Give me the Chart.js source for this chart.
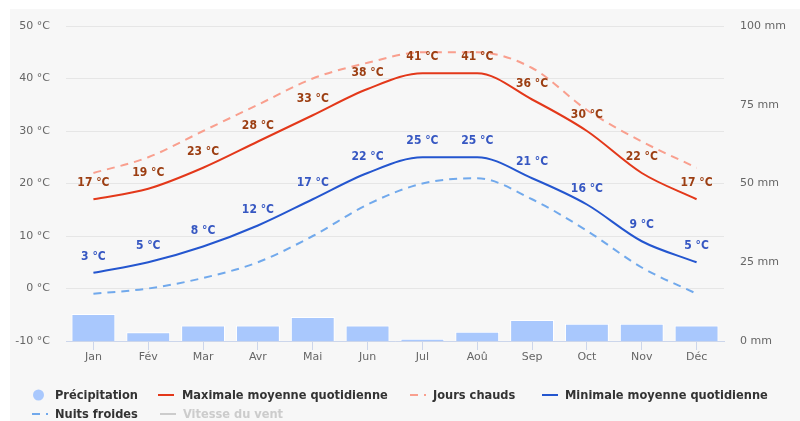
<!DOCTYPE html>
<html>
<head>
<meta charset="utf-8">
<script src="https://cdn.jsdelivr.net/npm/chart.js@4.4.1/dist/chart.umd.min.js"></script>
<style>
  html, body { margin:0; padding:0; background:#ffffff; width:800px; height:421px; overflow:hidden; }
  #panel { position:absolute; left:10px; top:9px; width:790px; height:412px; background:#f7f7f7; }
  #wrap { position:absolute; left:0; top:0; width:800px; height:421px; }
  .lg { position:absolute; font-family:"DejaVu Sans Condensed","DejaVu Sans",sans-serif; font-weight:bold; font-size:12.7px; color:#333333; line-height:14px; white-space:nowrap; }
  .sym { position:absolute; }
</style>
</head>
<body>
<div id="panel"></div>
<div id="wrap"><canvas id="c" width="800" height="421"></canvas></div>
<div id="legend"></div>
<script>
const months = ['Jan','Fév','Mar','Avr','Mai','Jun','Jul','Aoû','Sep','Oct','Nov','Déc'];
const precipitation = [8.6, 2.8, 4.9, 4.9, 7.6, 4.9, 0.7, 2.9, 6.7, 5.5, 5.5, 4.9];
const maxTemp = [17, 19, 23, 28, 33, 38, 41, 41, 36, 30, 22, 17];
const hotDays = [22, 25, 30, 35, 40, 43, 45, 45, 42, 34, 28, 23];
const minTemp = [3, 5, 8, 12, 17, 22, 25, 25, 21, 16, 9, 5];
const coldNights = [-1, 0, 2, 5, 10, 16, 20, 21, 17, 11, 4, -1];
const windSpeed = [null, null, null, null, null, null, null, null, null, null, null, null];
const tempTicks = [-10, 0, 10, 20, 30, 40, 50];
const precipTicks = [0, 25, 50, 75, 100];
const legendNames = ['Précipitation', 'Maximale moyenne quotidienne', 'Jours chauds', 'Minimale moyenne quotidienne', 'Nuits froides', 'Vitesse du vent'];

const COL = {
  bar: '#a9c8fd',
  max: '#e3381a',
  hot: '#f99f8e',
  min: '#2456cf',
  cold: '#71a9ec',
  wind: '#cccccc',
  maxLabel: '#9c3e12',
  minLabel: '#3657c2'
};

const labelPlugin = {
  id: 'valueLabels',
  afterDatasetsDraw(chart) {
    const ctx = chart.ctx;
    chart.data.datasets.forEach((ds, i) => {
      if (!ds.labelColor) return;
      const meta = chart.getDatasetMeta(i);
      ctx.save();
      ctx.font = 'bold 12px "DejaVu Sans Condensed","DejaVu Sans",sans-serif';
      ctx.fillStyle = ds.labelColor;
      ctx.textAlign = 'center';
      ctx.textBaseline = 'middle';
      meta.data.forEach((pt, j) => {
        ctx.fillText(ds.data[j] + ' °C', pt.x, pt.y - 16);
      });
      ctx.restore();
    });
  }
};

Chart.defaults.font.family = '"DejaVu Sans", sans-serif';
Chart.defaults.font.size = 11;
Chart.defaults.color = '#666666';

new Chart(document.getElementById('c'), {
  data: {
    labels: months,
    datasets: [
      { type:'bar', label: legendNames[0], data: precipitation, yAxisID:'y1', backgroundColor: COL.bar,
        borderColor:'#ffffff', borderWidth:1, categoryPercentage:1.0, barPercentage:0.8, order: 10 },
      { type:'line', label: legendNames[1], data: maxTemp, yAxisID:'y', borderColor: COL.max, borderWidth:2,
        pointRadius:0, cubicInterpolationMode:'monotone', fill:false, labelColor: COL.maxLabel, order: 1 },
      { type:'line', label: legendNames[2], data: hotDays, yAxisID:'y', borderColor: COL.hot, borderWidth:2,
        borderDash:[8,6], pointRadius:0, cubicInterpolationMode:'monotone', fill:false, order: 2 },
      { type:'line', label: legendNames[3], data: minTemp, yAxisID:'y', borderColor: COL.min, borderWidth:2,
        pointRadius:0, cubicInterpolationMode:'monotone', fill:false, labelColor: COL.minLabel, order: 1 },
      { type:'line', label: legendNames[4], data: coldNights, yAxisID:'y', borderColor: COL.cold, borderWidth:2,
        borderDash:[8,6], pointRadius:0, cubicInterpolationMode:'monotone', fill:false, order: 2 },
      { type:'line', label: legendNames[5], data: windSpeed, yAxisID:'y', borderColor: COL.wind, borderWidth:2,
        pointRadius:0, fill:false, order: 3 }
    ]
  },
  options: {
    responsive:false,
    animation:false,
    devicePixelRatio:1,
    layout: { padding: { left:0, right:0, top:26, bottom:50 } },
    plugins: { legend: { display:false }, tooltip: { enabled:false } },
    scales: {
      x: {
        position:'bottom',
        offset:true,
        grid: { display:true, drawOnChartArea:false, drawTicks:true, tickLength:9, color:'#ccd6eb', offset:false },
        border: { display:true, color:'#ccd6eb', width:1 },
        ticks: { padding:1, color:'#666666', maxRotation:0, autoSkip:false },
        afterFit(s) { s.height = 30; }
      },
      y: {
        position:'left',
        min: tempTicks[0], max: tempTicks[tempTicks.length-1],
        afterBuildTicks(s) { s.ticks = tempTicks.map(v => ({ value: v })); },
        grid: { color:'#e6e6e6', drawTicks:false },
        border: { display:false },
        ticks: { padding:16, color:'#666666', callback: v => v + ' °C' },
        afterFit(s) { s.width = 66; }
      },
      y1: {
        position:'right',
        min: precipTicks[0], max: precipTicks[precipTicks.length-1],
        afterBuildTicks(s) { s.ticks = precipTicks.map(v => ({ value: v })); },
        grid: { display:false, drawTicks:false },
        border: { display:false },
        ticks: { padding:16, color:'#666666', callback: v => v + ' mm' },
        afterFit(s) { s.width = 76; }
      }
    }
  },
  plugins: [labelPlugin]
});

// HTML legend
const legendItems = [
  { name: legendNames[0], kind:'circle', color: COL.bar, sx:33, tx:55, y:395 },
  { name: legendNames[1], kind:'line', color: COL.max, sx:158, tx:182, y:395 },
  { name: legendNames[2], kind:'dash', color: COL.hot, sx:410, tx:433, y:395 },
  { name: legendNames[3], kind:'line', color: COL.min, sx:542, tx:565, y:395 },
  { name: legendNames[4], kind:'dash', color: COL.cold, sx:32, tx:55, y:414 },
  { name: legendNames[5], kind:'line', color: COL.wind, sx:160, tx:183, y:414, text:'#cccccc' }
];
const lg = document.getElementById('legend');
legendItems.forEach(it => {
  const s = document.createElementNS('http://www.w3.org/2000/svg', 'svg');
  s.setAttribute('width', '17'); s.setAttribute('height', '12');
  s.setAttribute('class', 'sym');
  s.style.left = it.sx + 'px'; s.style.top = (it.y - 6) + 'px';
  if (it.kind === 'circle') {
    s.innerHTML = '<circle cx="5.5" cy="6" r="5.5" fill="' + it.color + '"/>';
  } else if (it.kind === 'line') {
    s.innerHTML = '<line x1="0" y1="6" x2="16" y2="6" stroke="' + it.color + '" stroke-width="2"/>';
  } else {
    s.innerHTML = '<line x1="0" y1="6" x2="16" y2="6" stroke="' + it.color + '" stroke-width="2" stroke-dasharray="8,6"/>';
  }
  lg.appendChild(s);
  const t = document.createElement('div');
  t.className = 'lg';
  t.textContent = it.name;
  t.style.left = it.tx + 'px';
  t.style.top = (it.y - 7) + 'px';
  if (it.text) t.style.color = it.text;
  lg.appendChild(t);
});
</script>
</body>
</html>
